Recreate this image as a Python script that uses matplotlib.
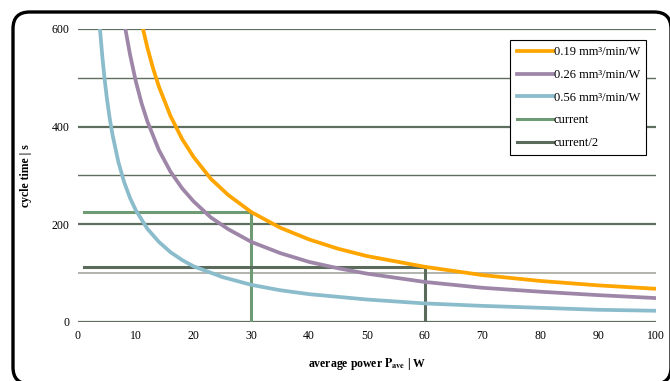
import matplotlib
matplotlib.use('Agg')
import matplotlib.pyplot as plt
from matplotlib.patches import FancyBboxPatch

# values
x_019 = [11.25, 12, 13, 14, 16, 18, 20, 23, 26, 30, 35, 40, 45, 50, 60, 70, 80, 90, 100]
y_019 = [600, 562, 519, 482, 422, 375, 338, 293, 260, 225, 193, 169, 150, 135, 113, 96, 84, 75, 68]

x_026 = [8.2, 9, 10, 11, 12, 14, 16, 18, 20, 23, 26, 30, 35, 40, 45, 50, 60, 70, 80, 90, 100]
y_026 = [600, 548, 493, 448, 411, 352, 308, 274, 247, 214, 190, 164, 141, 123, 110, 99, 82, 70, 62, 55, 49]

x_056 = [3.8, 4.2, 4.6, 5, 5.5, 6, 7, 8, 9, 10, 12, 14, 16, 18, 20, 25, 30, 35, 40, 50, 60, 70, 80, 90, 100]
y_056 = [600, 545, 498, 458, 416, 382, 327, 286, 254, 229, 191, 164, 143, 127, 114, 92, 76, 65, 57, 46, 38, 33, 29, 25, 23]

current_x = [1, 30, 30]
current_y = [225, 225, 0]
half_x = [1, 60, 60]
half_y = [113, 113, 0]

labels = ['0.19 mm³/min/W', '0.26 mm³/min/W', '0.56 mm³/min/W', 'current', 'current/2']
colors = ['#FFA500', '#9E86A8', '#8BBCCC', '#6E9B73', '#5B6B5B']

plt.rcParams['font.family'] = ['Liberation Serif', 'DejaVu Serif']
plt.rcParams['mathtext.fontset'] = 'stix'

fig = plt.figure(figsize=(6.7, 3.81), dpi=100)
ax = fig.add_axes([0.1164, 0.1549, 0.8626, 0.769])

# rounded frame around the whole chart (bottom and right run off the image)
W, H = 670.0, 381.0
frame = FancyBboxPatch((13 / W, -3 / H), 658 / W, 372 / H,
                       boxstyle='round,pad=0,rounding_size=0.025',
                       transform=fig.transFigure, fill=False,
                       edgecolor='black', linewidth=2.4, clip_on=False,
                       mutation_aspect=W / H)
fig.patches.append(frame)

# gridlines
for yv in [0, 200, 400, 600]:
    ax.axhline(yv, color='#5F6F5F', linewidth=1.6, zorder=1)
for yv in [300, 500]:
    ax.axhline(yv, color='#5F6F5F', linewidth=1.0, zorder=1)
ax.axhline(100, color='#A3A8A0', linewidth=1.2, zorder=1)

ax.plot(x_019, y_019, color=colors[0], linewidth=2.7, label=labels[0], zorder=3)
ax.plot(x_026, y_026, color=colors[1], linewidth=2.7, label=labels[1], zorder=3)
ax.plot(x_056, y_056, color=colors[2], linewidth=2.7, label=labels[2], zorder=3)
ax.plot(current_x, current_y, color=colors[3], linewidth=2.2, label=labels[3], zorder=2)
ax.plot(half_x, half_y, color=colors[4], linewidth=2.2, label=labels[4], zorder=2)

ax.set_xlim(0, 100)
ax.set_ylim(0, 600)
ax.set_xticks(range(0, 101, 10))
ax.set_yticks([0, 200, 400, 600])
ax.tick_params(length=0, labelsize=8.5, pad=6)
for s in ax.spines.values():
    s.set_visible(False)

ax.set_xlabel(r'average power $\mathbf{P}_{\mathbf{ave}}$ | W', fontsize=8.5,
              fontweight='bold', labelpad=10)
ax.set_ylabel('cycle time | s', fontsize=8.5, fontweight='bold', labelpad=14)

leg = ax.legend(loc='upper right', bbox_to_anchor=(0.983, 0.962), borderaxespad=0,
                fontsize=9, handlelength=2.9, handletextpad=0.05, labelspacing=0.85,
                fancybox=False, framealpha=1, edgecolor='black', borderpad=0.5)
leg.get_frame().set_linewidth(0.8)

fig.savefig('out.png', dpi=100)
